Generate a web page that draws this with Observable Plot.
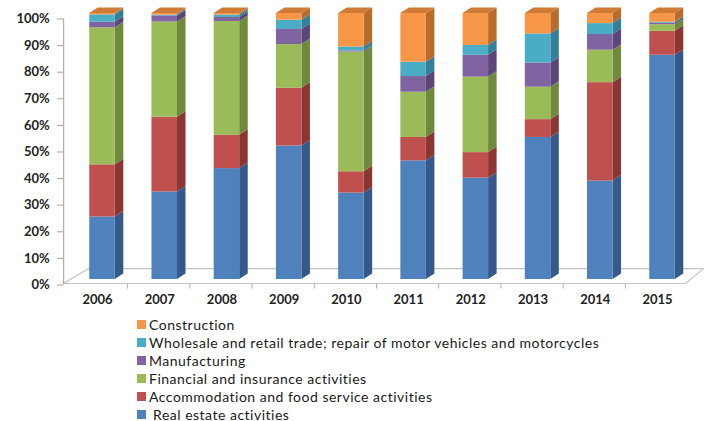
<!DOCTYPE html>
<html><head><meta charset="utf-8">
<script src="https://cdn.jsdelivr.net/npm/d3@7"></script>
<script src="https://cdn.jsdelivr.net/npm/@observablehq/plot@0.6"></script>
<style>
body{margin:0;background:#fff;font-family:Lato,"Open Sans",sans-serif;}
#legend{margin-left:137px;padding-top:3px;font-size:14px;letter-spacing:0.5px;color:#1a1a1a;}
.row{height:18px;display:flex;align-items:center;white-space:nowrap;}
.sw{width:9px;height:9px;margin-right:3px;flex:none;}
</style></head><body>
<div id="chart"></div><div id="legend"></div>
<script>
const years = [2006, 2007, 2008, 2009, 2010, 2011, 2012, 2013, 2014, 2015];
const seriesNames = [
  "Real estate activities",
  "Accommodation and food service activities",
  "Financial and insurance activities",
  "Manufacturing",
  "Wholesale and retail trade; repair of motor vehicles and motorcycles",
  "Construction"
];
const realEstate    = [23.5, 32.9, 41.7, 50.2, 32.5, 44.6, 38.1, 53.4, 37.0, 84.3];
const accommodation = [19.6, 28.1, 12.5, 21.7,  8.0,  8.8,  9.6,  6.7, 37.0,  9.0];
const financial     = [51.5, 35.8, 42.8, 16.4, 45.0, 17.0, 28.4, 12.2, 12.2,  2.5];
const manufacturing = [ 2.1,  2.3,  1.5,  5.7,  0.4,  5.9,  8.2,  9.1,  5.9,  0.6];
const wholesale     = [ 2.8,  0.3,  0.9,  3.5,  1.5,  5.4,  3.7, 10.9,  4.1,  0.3];
const construction  = [ 0.5,  0.6,  0.6,  2.5, 12.6, 18.3, 12.0,  7.7,  3.8,  3.3];
const yTicks = [0, 10, 20, 30, 40, 50, 60, 70, 80, 90, 100];
const legendOrder = [5, 4, 3, 2, 1, 0];

const frontColors = ["#4F81BD", "#C0504D", "#9BBB59", "#8064A2", "#4BACC6", "#F79646"];
const sideColors  = ["#34598A", "#8C3634", "#6F893D", "#5B4677", "#33809A", "#B86C2C"];
const topColor = "#D07B35";

const seriesValues = [realEstate, accommodation, financial, manufacturing, wholesale, construction];

// geometry of the pseudo-3D boxes (in data units)
const hw = 0.205;    // half width of front face (years)
const depth = 0.137; // side depth (years)
const rise = 2.07;   // vertical rise of depth (percent)

const segs = [];
years.forEach((yr, j) => {
  let acc = 0;
  seriesValues.forEach((vals, i) => {
    const lo = acc, hi = acc + vals[j];
    acc = hi;
    segs.push({year: yr, series: seriesNames[i], k: i, lo, hi, id: yr + "-" + i});
  });
});
const sidePts = [];
segs.forEach(s => {
  sidePts.push({k: s.k, id: s.id, x: s.year + hw, y1: s.lo, y2: s.hi});
  sidePts.push({k: s.k, id: s.id, x: s.year + hw + depth, y1: s.lo + rise, y2: s.hi + rise});
});
const topPts = [];
years.forEach(yr => {
  topPts.push({year: yr, y: 100, x1: yr - hw, x2: yr + hw});
  topPts.push({year: yr, y: 100 + rise, x1: yr - hw + depth, x2: yr + hw + depth});
});
const floorPts = [
  {x: 2005.37, y: -1.5}, {x: 2005.78, y: 4.1}, {x: 2015.66, y: 4.1}, {x: 2015.37, y: -1.5}, {x: 2005.37, y: -1.5}
];
const boundaries = years.map(y => y + 0.5).slice(0, 9);

const plot = Plot.plot({
  width: 705,
  height: 312,
  marginLeft: 64.67,
  marginRight: 5.67,
  marginTop: 13,
  marginBottom: 33,
  x: {domain: [2005.4, 2015.6]},
  y: {domain: [0, 100]},
  color: {domain: seriesNames, range: frontColors},
  style: {fontFamily: "Lato, 'Open Sans', sans-serif", fontSize: "13px", fontWeight: "bold", color: "#222", background: "#fff"},
  marks: [
    Plot.line(floorPts, {x: "x", y: "y", stroke: "#c4c4c4", strokeWidth: 1.2}),
    Plot.ruleX(boundaries, {x: d => d, y1: -1.5, y2: -3.6, dx: -6, stroke: "#b0b0b0"}),
    Plot.ruleX([2005.4], {y1: 0, y2: 100, dy: 5.5, dx: -1.5, stroke: "#a0a0a0"}),
    Plot.axisY({ticks: yTicks, tickFormat: d => d + "%", tickSize: 6, tickPadding: 8, dy: 5.5, dx: -1.5, stroke: "#a0a0a0"}),
    Plot.axisX({ticks: years, tickFormat: d => String(d), tickSize: 0, tickPadding: 15, dx: -5}),
    ...seriesNames.map((name, i) =>
      Plot.areaY(sidePts.filter(p => p.k === i), {x: "x", y1: "y1", y2: "y2", z: "id", fill: sideColors[i]})
    ),
    Plot.areaX(topPts, {y: "y", x1: "x1", x2: "x2", z: "year", fill: topColor}),
    Plot.rect(segs, {x1: d => d.year - hw, x2: d => d.year + hw, y1: "lo", y2: "hi", fill: "series"})
  ]
});
document.getElementById("chart").appendChild(plot);

const legend = document.getElementById("legend");
legendOrder.forEach(i => {
  const row = document.createElement("div");
  row.className = "row";
  const sw = document.createElement("span");
  sw.className = "sw";
  sw.style.background = frontColors[i];
  const tx = document.createElement("span");
  tx.textContent = (i === 0 ? "\u00a0" : "") + seriesNames[i];
  row.appendChild(sw); row.appendChild(tx);
  legend.appendChild(row);
});
</script>
</body></html>
